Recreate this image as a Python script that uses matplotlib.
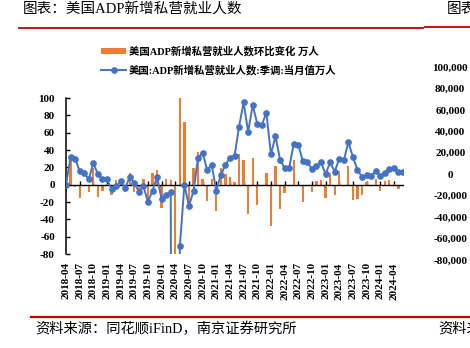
import matplotlib
matplotlib.use("Agg")
import matplotlib.pyplot as plt
from matplotlib.lines import Line2D
from matplotlib.patches import Patch
from matplotlib.ticker import FuncFormatter, MultipleLocator
import numpy as np

plt.rcParams['axes.unicode_minus'] = False
NUM_FONT = ['Liberation Serif', 'Noto Sans CJK SC']
CJK_FONT = ['Liberation Serif', 'Noto Sans CJK SC']

# monthly, 2018-04 .. 2024-06, unit: 万人
adp_level = [0, 32, 30, 16, 14, 6, 25, 12, 6, 6,
             -5, -2, 4, -4, 9, 2, -8, -2, -20, -7,
             9, -17, -12, -8, -2000, -71, 0, -25, -7, 31,
             37, 17, 23, -7, 11, 23, 31, 33, 67, 95,
             61, 92, 70, 69, 83, 35, 56, 29, 19, 19,
             47, 46, 27, 26, 18, 21, 26, 12, 26, 15,
             30, 28, 49, 32, 17, 9, 11, 10, 16, 10,
             14, 18, 19, 15, 15]
adp_change = [-10, 32, -3, -15, -2, -9, 19, -14, -7, 1,
              -12, 5, 6, -8, 14, -8, -11, 7, -18, 14,
              17, -27, 6, 5, -1992, 1929, 72, -26, 19, 38,
              7, -19, 6, -30, 19, 12, 9, 3, 35, 29,
              -34, 31, -23, -2, 14, -48, 21, -28, -10, -1,
              28, -1, -20, -1, -8, 4, 5, -15, 14, -12,
              16, -2, 22, -18, -16, -12, 3, -2, 7, -7,
              4, 5, 1, -5, 0]
tick_labels = ['2018-04', '2018-07', '2018-10', '2019-01', '2019-04', '2019-07',
               '2019-10', '2020-01', '2020-04', '2020-07', '2020-10', '2021-01',
               '2021-04', '2021-07', '2021-10', '2022-01', '2022-04', '2022-07',
               '2022-10', '2023-01', '2023-04', '2023-07', '2023-10', '2024-01',
               '2024-04']
right_ticks = [-80000, -60000, -40000, -20000, 0, 20000, 40000, 60000, 80000, 100000]

label_bar = '美国ADP新增私营就业人数环比变化 万人'
label_line = '美国:ADP新增私营就业人数:季调:当月值万人'

ORANGE = '#ED7D31'
BLUE = '#4472C4'
RED = '#C00000'

W, H = 470, 348
fig = plt.figure(figsize=(W / 100, H / 100), dpi=100)

def fx(px):
    return px / W

def fy(py):
    return 1 - py / H

x = np.arange(len(adp_level))

ax = fig.add_axes([fx(66), fy(254), fx(403 - 66), (254 - 98) / H])
bars = ax.bar(x, adp_change, width=0.5, color=ORANGE, zorder=2)
line, = ax.plot(x, adp_level, color=BLUE, lw=1.4, marker='o', ms=3.8,
                mfc=BLUE, mec=BLUE, zorder=3)
ax.set_xlim(0, len(x) - 1)
ax.set_ylim(-80, 100)
ax.yaxis.set_major_locator(MultipleLocator(20))
ax.tick_params(axis='y', direction='in', length=3, width=1, pad=8,
               labelsize=8)
for lbl in ax.get_yticklabels():
    lbl.set_family(NUM_FONT)
    lbl.set_fontweight('bold')

for s in ['top', 'right']:
    ax.spines[s].set_visible(False)
ax.spines['left'].set_linewidth(1.1)
ax.spines['bottom'].set_position(('data', 0))
ax.spines['bottom'].set_linewidth(1.0)
ax.set_xticks(x[::3])
ax.tick_params(axis='x', direction='in', length=3, width=1, labelbottom=False)

# date labels sit below the plot area, not on the zero line
sec = ax.secondary_xaxis('bottom')
sec.spines['bottom'].set_visible(False)
sec.set_xticks(x[::3])
sec.set_xticklabels(tick_labels, rotation=90, fontsize=8, fontweight='bold',
                    family=NUM_FONT)
sec.tick_params(axis='x', length=0, pad=6)

# right-hand scale
axr = fig.add_axes([fx(66), fy(260), fx(403 - 66), (260 - 67) / H])
axr.patch.set_visible(False)
for s in axr.spines.values():
    s.set_visible(False)
axr.set_ylim(-80000, 100000)
axr.set_xticks([])
axr.yaxis.tick_right()
axr.set_yticks(right_ticks)
axr.yaxis.set_major_formatter(FuncFormatter(lambda v, p: f'{v:,.0f}'))
axr.tick_params(axis='y', length=0, pad=34, labelsize=8)
for lbl in axr.get_yticklabels():
    lbl.set_family(NUM_FONT)
    lbl.set_fontweight('bold')
    lbl.set_horizontalalignment('center')

handles = [Patch(facecolor=ORANGE, edgecolor='none'),
           Line2D([], [], color=BLUE, lw=1.4, marker='o', ms=3.8)]
fig.legend(handles, [label_bar, label_line], loc='upper left',
           bbox_to_anchor=(fx(101), fy(46)), frameon=False,
           prop={'family': CJK_FONT, 'weight': 'bold', 'size': 7.5},
           handlelength=2.4, handleheight=0.55, handletextpad=0.25,
           labelspacing=0.75, borderpad=0, borderaxespad=0)

fig.text(fx(23), fy(9), '图表：美国ADP新增私营就业人数', family=CJK_FONT,
         fontsize=10.5, va='center', ha='left')
fig.text(fx(447), fy(9), '图表：美国', family=CJK_FONT,
         fontsize=10.5, va='center', ha='left')
fig.text(fx(35), fy(329), '资料来源：同花顺iFinD，南京证券研究所', family=CJK_FONT,
         fontsize=10.3, va='center', ha='left')
fig.text(fx(438), fy(329), '资料来源', family=CJK_FONT,
         fontsize=10.3, va='center', ha='left')

fig.add_artist(Line2D([fx(19), fx(423)], [fy(27.5), fy(27.5)], color=RED, lw=1.3))
fig.add_artist(Line2D([fx(425), fx(470)], [fy(26.8), fy(26.8)], color=RED, lw=1.3))
fig.add_artist(Line2D([fx(31), fx(470)], [fy(316.5), fy(316.5)], color=RED, lw=1.6))

fig.savefig('out.png', dpi=100)
